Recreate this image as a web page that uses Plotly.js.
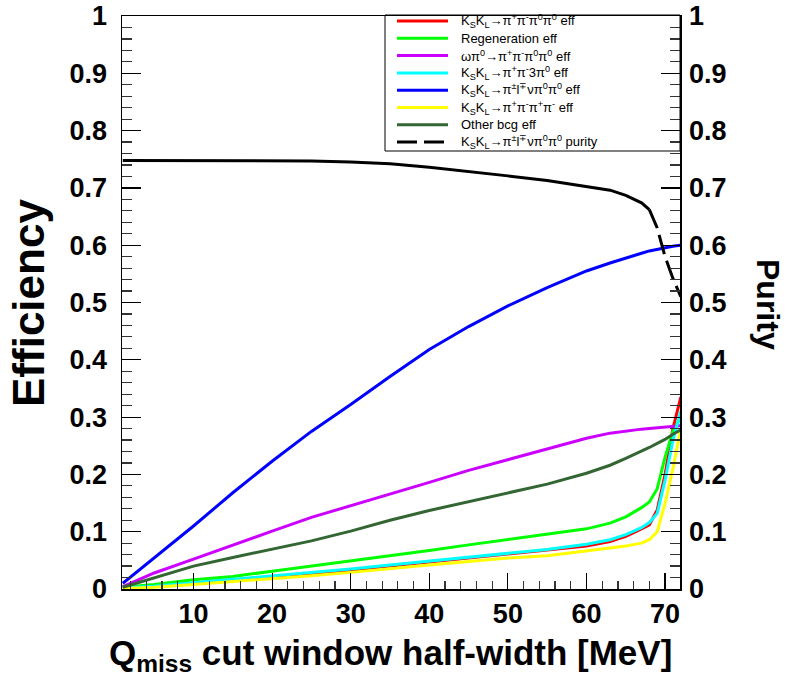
<!DOCTYPE html>
<html>
<head>
<meta charset="utf-8">
<script src="https://cdn.plot.ly/plotly-3.0.1.min.js"></script>
<style>html,body{margin:0;padding:0;background:#fff;}#chart{width:793px;height:693px;}</style>
</head>
<body>
<div id="chart"></div>
<script>
// Q_miss cut window half-width [MeV]
const qCut = [1, 5, 10, 15, 20, 25, 30, 35, 40, 45, 50, 55, 60, 63, 65, 67, 68, 69, 70, 71, 72];

// efficiencies
const effSignal4pi0 = [0.002, 0.005, 0.010, 0.016, 0.021, 0.027, 0.033, 0.040, 0.047, 0.054, 0.060, 0.067, 0.075, 0.083, 0.092, 0.105, 0.112, 0.138, 0.200, 0.280, 0.335];
const effRegeneration = [0.003, 0.008, 0.016, 0.022, 0.031, 0.040, 0.048, 0.058, 0.067, 0.077, 0.086, 0.095, 0.105, 0.115, 0.126, 0.142, 0.152, 0.175, 0.230, 0.275, 0.300];
const effOmegaPi0 = [0.004, 0.028, 0.052, 0.077, 0.101, 0.125, 0.145, 0.165, 0.186, 0.207, 0.226, 0.245, 0.263, 0.272, 0.276, 0.279, 0.280, 0.281, 0.282, 0.283, 0.285];
const effThreePi0 = [0.002, 0.005, 0.011, 0.017, 0.022, 0.029, 0.035, 0.042, 0.049, 0.056, 0.063, 0.069, 0.078, 0.086, 0.095, 0.107, 0.116, 0.132, 0.190, 0.260, 0.310];
const effSemileptonic = [0.010, 0.055, 0.110, 0.168, 0.223, 0.275, 0.322, 0.371, 0.418, 0.458, 0.494, 0.526, 0.555, 0.569, 0.578, 0.586, 0.590, 0.593, 0.596, 0.598, 0.600];
const effFourCharged = [0.001, 0.003, 0.008, 0.013, 0.017, 0.023, 0.029, 0.036, 0.042, 0.048, 0.054, 0.058, 0.066, 0.071, 0.075, 0.080, 0.086, 0.100, 0.150, 0.210, 0.280];
const effOther = [0.003, 0.020, 0.040, 0.055, 0.069, 0.084, 0.101, 0.120, 0.137, 0.152, 0.167, 0.183, 0.202, 0.216, 0.228, 0.240, 0.247, 0.254, 0.261, 0.270, 0.278];

// purity
const puritySemileptonic = [0.748, 0.748, 0.748, 0.748, 0.748, 0.747, 0.745, 0.742, 0.736, 0.729, 0.721, 0.713, 0.703, 0.696, 0.687, 0.674, 0.662, 0.630, 0.580, 0.542, 0.510];
const puritySolidEnd = 68; // dash pattern only visible on the long final segments

// tick labels
const yTickVals = [0, 0.1, 0.2, 0.3, 0.4, 0.5, 0.6, 0.7, 0.8, 0.9, 1];
const yTickText = ['0', '0.1', '0.2', '0.3', '0.4', '0.5', '0.6', '0.7', '0.8', '0.9', '1'];
const xTickVals = [10, 20, 30, 40, 50, 60, 70];

const names = [
  'K<sub>S</sub>K<sub>L</sub>→π<sup>+</sup>π<sup>-</sup>π<sup>0</sup>π<sup>0</sup> eff',
  'Regeneration eff',
  'ωπ<sup>0</sup>→π<sup>+</sup>π<sup>-</sup>π<sup>0</sup>π<sup>0</sup> eff',
  'K<sub>S</sub>K<sub>L</sub>→π<sup>+</sup>π<sup>-</sup>3π<sup>0</sup> eff',
  'K<sub>S</sub>K<sub>L</sub>→π<sup>±</sup>l<sup>∓</sup>νπ<sup>0</sup>π<sup>0</sup> eff',
  'K<sub>S</sub>K<sub>L</sub>→π<sup>+</sup>π<sup>-</sup>π<sup>+</sup>π<sup>-</sup> eff',
  'Other bcg eff',
  'K<sub>S</sub>K<sub>L</sub>→π<sup>±</sup>l<sup>∓</sup>νπ<sup>0</sup>π<sup>0</sup> purity'
];
const colors = ['#ff0000', '#00ff00', '#cc00ff', '#00ffff', '#0000ff', '#ffff00', '#336633', '#000000'];
const dashes = ['solid', 'solid', 'solid', 'solid', 'solid', 'solid', 'solid', '20px,7px'];
const effSeries = [effSignal4pi0, effRegeneration, effOmegaPi0, effThreePi0, effSemileptonic, effFourCharged, effOther];

const traces = effSeries.map((ys, i) => ({
  x: qCut, y: ys, type: 'scatter', mode: 'lines', name: names[i],
  line: {color: colors[i], width: 3}
}));

const iSplit = qCut.indexOf(puritySolidEnd);
traces.push({
  x: qCut.slice(0, iSplit + 1), y: puritySemileptonic.slice(0, iSplit + 1),
  type: 'scatter', mode: 'lines', name: names[7],
  line: {color: colors[7], width: 3}
});
traces.push({
  x: qCut.slice(iSplit), y: puritySemileptonic.slice(iSplit),
  type: 'scatter', mode: 'lines', name: names[7], yaxis: 'y2',
  line: {color: colors[7], width: 3, dash: dashes[7]}
});

const FONT = 'Liberation Sans, Arial, Helvetica, sans-serif';
const tickFont = {family: FONT, size: 27, weight: 'bold', color: '#000'};

const yCommon = {
  range: [0, 1], tickmode: 'array', tickvals: yTickVals, ticktext: yTickText,
  ticks: 'inside', ticklen: 19, tickwidth: 1.2, tickcolor: '#000',
  minor: {ticks: 'inside', ticklen: 10, dtick: 0.02, tick0: 0, tickcolor: '#333', tickwidth: 1.2},
  showline: true, linecolor: '#000', linewidth: 1.5, showgrid: false, zeroline: false,
  tickfont: tickFont, fixedrange: true
};

// hand-drawn legend box (ROOT style, 17 px rows)
const L = {x0: 385, x1: 680, y0: 15, y1: 151, lineX0: 397, lineX1: 448, textX: 459, row0: 21, rowH: 17.3};
const plotL = 122, plotR = 680, plotT = 16, plotB = 589;
const px2x = p => (p - plotL) / (plotR - plotL);
const px2y = p => (plotB - p) / (plotB - plotT);

const shapes = [{
  type: 'rect', xref: 'paper', yref: 'paper', layer: 'above',
  x0: px2x(L.x0), x1: px2x(L.x1), y0: px2y(L.y1), y1: px2y(L.y0),
  line: {color: '#000', width: 1}, fillcolor: 'rgba(0,0,0,0)'
}];
const annotations = [];
names.forEach((nm, i) => {
  const yy = px2y(L.row0 + i * L.rowH);
  shapes.push({type: 'line', xref: 'paper', yref: 'paper', x0: px2x(L.lineX0), x1: px2x(L.lineX1), y0: yy, y1: yy,
    line: {color: colors[i], width: 3, dash: dashes[i]}});
  annotations.push({text: nm, xref: 'paper', yref: 'paper', x: px2x(L.textX), y: yy, xanchor: 'left', yanchor: 'middle',
    showarrow: false, font: {family: FONT, size: 13, color: '#000'}});
});

annotations.push(
  {text: 'Q<sub>miss</sub> cut window half-width [MeV]', xref: 'paper', yref: 'paper',
   x: px2x(390), y: px2y(655), xanchor: 'center', yanchor: 'middle', showarrow: false,
   font: {family: FONT, size: 35, weight: 'bold', color: '#000'}},
  {text: 'Efficiency', xref: 'paper', yref: 'paper', textangle: -90,
   x: px2x(28), y: px2y(303), xanchor: 'center', yanchor: 'middle', showarrow: false,
   font: {family: FONT, size: 44, weight: 'bold', color: '#000'}},
  {text: 'Purity', xref: 'paper', yref: 'paper', textangle: 90,
   x: px2x(768), y: px2y(304), xanchor: 'center', yanchor: 'middle', showarrow: false,
   font: {family: FONT, size: 32, weight: 'bold', color: '#000'}}
);

const layout = {
  width: 793, height: 693,
  margin: {l: plotL, r: 793 - plotR, t: plotT, b: 693 - plotB},
  paper_bgcolor: '#fff', plot_bgcolor: '#fff',
  showlegend: false,
  xaxis: {
    range: [0.9, 71.9], tickmode: 'array', tickvals: xTickVals,
    ticks: 'inside', ticklen: 16, tickwidth: 1.2, tickcolor: '#000',
    minor: {ticks: 'inside', ticklen: 8, dtick: 2, tick0: 0, tickcolor: '#333', tickwidth: 1.2},
    showline: true, linecolor: '#000', linewidth: 1.5, mirror: true, showgrid: false, zeroline: false,
    tickfont: tickFont, ticklabelstandoff: 0, fixedrange: true
  },
  yaxis: Object.assign({}, yCommon, {side: 'left', ticklabelstandoff: 8}),
  yaxis2: Object.assign({}, yCommon, {side: 'right', overlaying: 'y', anchor: 'x', ticklabelstandoff: 2}),
  shapes: shapes,
  annotations: annotations
};

Plotly.newPlot('chart', traces, layout, {displayModeBar: false, staticPlot: true});
</script>
</body>
</html>
